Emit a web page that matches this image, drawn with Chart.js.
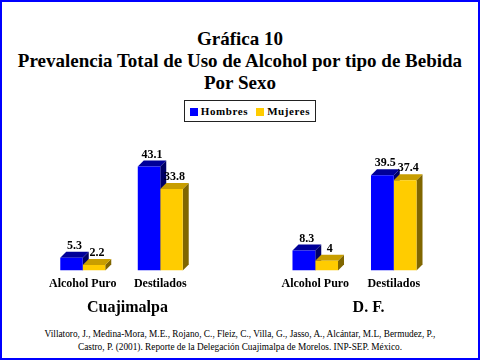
<!DOCTYPE html>
<html>
<head>
<meta charset="utf-8">
<script src="https://cdn.jsdelivr.net/npm/chart.js@4"></script>
<style>
    html, body { margin: 0; padding: 0; background: #fff; }
    #page {
        position: relative; width: 476px; height: 356px;
        border: 2px solid #0000ff; background: #fff; overflow: hidden;
        font-family: 'Times New Roman', 'Liberation Serif', serif;
    }
    #title {
        position: absolute; left: 0; top: 26px; width: 476px;
        text-align: center; font-weight: bold; font-size: 19px; line-height: 22px; color: #000;
    }
    #legend {
        position: absolute; left: 182px; top: 98px; width: 132px; height: 22px;
        border: 1px solid #222; font-weight: bold; font-size: 11px; letter-spacing: 0.6px;
        display: flex; align-items: center; justify-content: center; gap: 8px; box-sizing: border-box;
    }
    #legend span.sw { display: inline-block; width: 8px; height: 8px; margin-right: 3px; vertical-align: -1px; }
    .panel { position: absolute; top: 135px; width: 238px; height: 180px; }
    #left { left: 0; }
    #right { left: 238px; }
    #cite {
        position: absolute; left: 0; top: 326px; width: 476px;
        text-align: center; font-size: 9.3px; line-height: 13px; color: #000;
    }
</style>
</head>
<body>
<div id="page">
    <div id="title">Gráfica 10<br>Prevalencia Total de Uso de Alcohol por tipo de Bebida<br>Por Sexo</div>
    <div id="legend">
        <div><span class="sw" style="background:#0000ff"></span>Hombres</div>
        <div><span class="sw" style="background:#ffcc00"></span>Mujeres</div>
    </div>
    <div class="panel" id="left"><canvas id="cuaji" width="238" height="180"></canvas></div>
    <div class="panel" id="right"><canvas id="df" width="238" height="180"></canvas></div>
    <div id="cite">Villatoro, J., Medina-Mora, M.E., Rojano, C., Fleiz, C., Villa, G., Jasso, A., Alcántar, M.L, Bermudez, P.,<br>Castro, P. (2001). Reporte de la Delegación Cuajimalpa de Morelos. INP-SEP. México.</div>
</div>
<script>
// Data
const categories = ['Alcohol Puro', 'Destilados'];
const seriesNames = ['Hombres', 'Mujeres'];
const hombresCuaji = [5.3, 43.1];
const mujeresCuaji = [2.2, 33.8];
const hombresDF = [8.3, 39.5];
const mujeresDF = [4, 37.4];

const FONT = "'Times New Roman', 'Liberation Serif', serif";
const colors = {
    front: ['#0000ff', '#ffcc00'],
    top: ['#000099', '#c89e00'],
    side: ['#000066', '#806600']
};
const DEPTH = 6;

// Draws the top and side faces behind the flat bars, plus value labels
const bar3d = {
    id: 'bar3d',
    beforeDatasetsDraw(chart) {
        const ctx = chart.ctx;
        chart.data.datasets.forEach((ds, di) => {
            chart.getDatasetMeta(di).data.forEach(bar => {
                const { x, y, base, width } = bar.getProps(['x', 'y', 'base', 'width'], true);
                const x0 = x - width / 2, x1 = x + width / 2;
                ctx.save();
                // side
                ctx.fillStyle = colors.side[di];
                ctx.beginPath();
                ctx.moveTo(x1, y);
                ctx.lineTo(x1 + DEPTH, y - DEPTH);
                ctx.lineTo(x1 + DEPTH, base - DEPTH);
                ctx.lineTo(x1, base);
                ctx.closePath();
                ctx.fill();
                // top
                ctx.fillStyle = colors.top[di];
                ctx.beginPath();
                ctx.moveTo(x0, y);
                ctx.lineTo(x0 + DEPTH, y - DEPTH);
                ctx.lineTo(x1 + DEPTH, y - DEPTH);
                ctx.lineTo(x1, y);
                ctx.closePath();
                ctx.fill();
                ctx.restore();
            });
        });
    },
    afterDatasetsDraw(chart) {
        const ctx = chart.ctx;
        ctx.save();
        ctx.font = 'bold 12px ' + FONT;
        ctx.fillStyle = '#000';
        ctx.textAlign = 'center';
        ctx.textBaseline = 'middle';
        chart.data.datasets.forEach((ds, di) => {
            chart.getDatasetMeta(di).data.forEach((bar, i) => {
                const { x, y } = bar.getProps(['x', 'y'], true);
                ctx.fillText(String(ds.data[i]), x + DEPTH / 2, y - 12);
            });
        });
        ctx.restore();
    }
};

// lead pads the axis title so it sits where the original has it
function makePanel(canvasId, hombres, mujeres, place, lead, padLeft, padRight) {
    const ctx = document.getElementById(canvasId).getContext('2d');
    return new Chart(ctx, {
        type: 'bar',
        data: {
            labels: categories,
            datasets: [
                { label: seriesNames[0], data: hombres, backgroundColor: colors.front[0] },
                { label: seriesNames[1], data: mujeres, backgroundColor: colors.front[1] }
            ]
        },
        options: {
            responsive: false,
            animation: false,
            layout: { padding: { left: padLeft, right: padRight, top: 13, bottom: 0 } },
            plugins: { legend: { display: false }, tooltip: { enabled: false } },
            datasets: { bar: { barPercentage: 1, categoryPercentage: 0.58 } },
            scales: {
                x: {
                    grid: { display: false, drawTicks: false },
                    border: { display: false },
                    ticks: { color: '#000', padding: 6, font: { family: FONT, size: 12, weight: 'bold' } },
                    title: {
                        display: true, text: '\u00a0'.repeat(lead) + place, color: '#000',
                        padding: { top: 1, bottom: 0 },
                        font: { family: FONT, size: 16, weight: 'bold' }
                    }
                },
                y: { display: false, min: 0, max: 50 }
            }
        },
        plugins: [bar3d]
    });
}

function render() {
    makePanel('cuaji', hombresCuaji, mujeresCuaji, 'Cuajimalpa', 3, 42, 41);
    makePanel('df', hombresDF, mujeresDF, 'D. F.', 7, 36, 45);
}

Promise.all([
    document.fonts.load("bold 12px 'Times New Roman'"),
    document.fonts.load("bold 16px 'Liberation Serif'")
]).then(render, render);
</script>
</body>
</html>
